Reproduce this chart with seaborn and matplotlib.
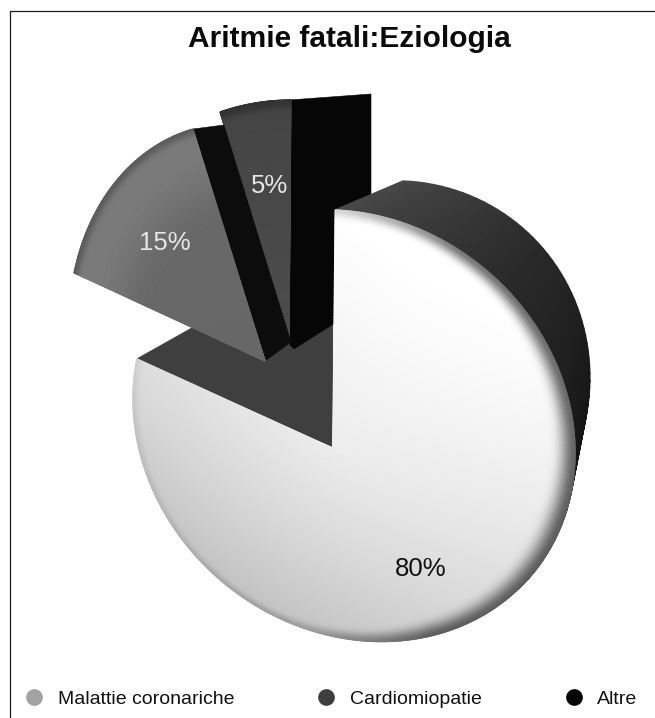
import numpy as np
import matplotlib
matplotlib.use("Agg")
import matplotlib.pyplot as plt
from matplotlib.collections import LineCollection
from matplotlib.lines import Line2D
import seaborn as sns

TITLE = "Aritmie fatali:Eziologia"
categories = ["Malattie coronariche", "Cardiomiopatie", "Altre"]
values = [80, 15, 5]
legend_colors = ["#a2a2a2", "#3e3e3e", "#040404"]

sns.set_theme(style="white")
plt.rcParams["font.family"] = ["Liberation Sans", "DejaVu Sans"]

# Cumulative fractions give the slice boundaries, clockwise from 12 o'clock.
edges = np.cumsum([0] + values) / sum(values)


def rim(frac):
    a = 2 * np.pi * np.asarray(frac)
    return np.column_stack([np.sin(a), np.cos(a)])


def homography(src, dst):
    rows, rhs = [], []
    for (x, y), (u, v) in zip(src, dst):
        rows.append([x, y, 1, 0, 0, 0, -u * x, -u * y])
        rows.append([0, 0, 0, x, y, 1, -v * x, -v * y])
        rhs += [u, v]
    return np.append(np.linalg.solve(np.array(rows, float), np.array(rhs, float)), 1).reshape(3, 3)


def project(H, pts):
    pts = np.asarray(pts, float)
    q = H @ np.column_stack([pts, np.ones(len(pts))]).T
    return (q[:2] / q[2]).T


def face_map(start, end, apex, p_start, p_mid, p_end):
    m = (start + end) / 2
    src = np.vstack([[[0, 0]], rim([start, m, end])])
    return homography(src, [apex, p_start, p_mid, p_end])


def shaded_slice(ax, H, start, end, shade):
    r = np.linspace(0, 1, 90)
    f = np.linspace(start, end, 300)
    R, F = np.meshgrid(r, f)
    uv = np.column_stack([(R * np.sin(2 * np.pi * F)).ravel(), (R * np.cos(2 * np.pi * F)).ravel()])
    xy = project(H, uv)
    X, Y = xy[:, 0].reshape(R.shape), xy[:, 1].reshape(R.shape)
    C = np.clip(shade(R, F, uv[:, 0].reshape(R.shape), uv[:, 1].reshape(R.shape)), 0, 1)
    ax.pcolormesh(X, Y, C, cmap="gray", vmin=0, vmax=1, shading="gouraud", zorder=ax.zcount)
    # Smooth the aliased boundary with a thin line in the local shade.
    outline = np.column_stack([X[:, -1], Y[:, -1]])
    segs = np.stack([outline[:-1], outline[1:]], axis=1)
    shades = plt.cm.gray(C[:-1, -1])
    ax.add_collection(LineCollection(segs, colors=shades, linewidths=0.9, zorder=ax.zcount))
    ax.zcount += 1


def flat(ax, pts, color, lw=0.4):
    ax.fill(*np.asarray(pts).T, color=color, lw=lw, zorder=ax.zcount)
    ax.zcount += 1


def smooth(x):
    x = np.clip(x, 0, 1)
    return x * x * (3 - 2 * x)


def main_shade(R, F, U, V):
    base = 0.885 + 0.125 * (0.45 * U + 0.9 * V) + 0.04 * (1 - R)
    deg = F * 360
    strength = np.interp(deg, [0, 30, 100, 150, 185, 230, 290], [0.15, 0.55, 0.6, 0.55, 0.2, 0.1, 0.05])
    width = np.interp(deg, [0, 40, 100, 150, 200, 290], [0.05, 0.07, 0.12, 0.12, 0.05, 0.05])
    return base * (1 - strength * smooth((R - (1 - width)) / width) ** 1.6)


def mid_shade(R, F, U, V):
    return 0.41 + 0.07 * smooth((R - 0.6) / 0.3) - 0.12 * smooth((R - 0.96) / 0.04)


def dark_shade(R, F, U, V):
    return 0.27 + 0.03 * (1 - R) - 0.07 * smooth((R - 0.95) / 0.05)


fig = plt.figure(figsize=(6.55, 7.18), dpi=100, facecolor="white")
ax = fig.add_axes([0, 0, 1, 1])
ax.zcount = 2

quarter_points = rim([0, 0.25, 0.5, 0.75])
main_front = homography(quarter_points, [(335, 210), (573, 482), (331, 636), (134, 420)])
main_back = homography(quarter_points, [(403, 181), (588, 405), (372, 590), (184, 390)])
second = face_map(edges[1], edges[2], (265, 361), (74, 273), (117, 180), (193, 129))
third = face_map(edges[2], edges[3], (289, 343), (220, 112), (255, 103), (291, 100))

# Exposed inner wall of the large slice, seen through the gap.
apex = project(main_front, [[0, 0]])[0]
left_front = project(main_front, rim([edges[1]]))[0]
left_back = project(main_back, rim([edges[1]]))[0]
flat(ax, [apex, left_front, left_back, (280, 300), (333, 300)], "#3f3f3f")

# Side wall of the smallest slice.
top_third = project(third, rim([edges[3]]))[0]
apex_third = project(third, [[0, 0]])[0]
flat(ax, [top_third + (-2, 0), top_third + (80, -6), top_third + (80, 200), apex_third + (5, 6), apex_third + (1, 2)], "#060606")

# Rim wall of the large slice, darkening clockwise.
fracs = np.linspace(0, 0.34, 60)
front_arc = project(main_front, rim(fracs))
back_arc = project(main_back, rim(fracs))
ramp = sns.blend_palette(["#474747", "#2a2a2a", "#181818", "#101010"], len(fracs) - 1)
for i, col in enumerate(ramp):
    flat(ax, [front_arc[i], front_arc[i + 1], back_arc[i + 1], back_arc[i]], col, lw=1.0)

shaded_slice(ax, third, edges[2], edges[3], dark_shade)

# Side wall of the middle slice.
top_second = project(second, rim([edges[2]]))[0]
apex_second = project(second, [[0, 0]])[0]
flat(ax, [apex_second, top_second, top_second + (31, -4), apex_second + (26, -19)], "#0c0c0c")
shaded_slice(ax, second, edges[1], edges[2], mid_shade)

shaded_slice(ax, main_front, edges[0], edges[1], main_shade)

# Text and frame sit above every shaded layer.
TOP = ax.zcount + 10

# Outer frame along the left and top.
ax.plot([9.5, 9.5, 655], [718, 11, 11], color="#1c1c1c", lw=0.9, zorder=TOP)

ax.text(349.5, 39, TITLE, ha="center", va="center", fontsize=21.5, fontweight="bold", color="#0a0a0a", zorder=TOP)

label_pos = [(421, 569), (165, 243), (270, 186)]
label_cols = ["#111111", "#e6e6e6", "#e6e6e6"]
for v, (x, y), c in zip(values, label_pos, label_cols):
    ax.text(x, y, f"{v}%", ha="center", va="center", fontsize=18.5, color=c, zorder=TOP)

handles = [
    Line2D([], [], linestyle="none", marker="o", markersize=11, markerfacecolor=c, markeredgecolor=c)
    for c in legend_colors
]
leg = ax.legend(
    handles, categories, ncol=3, frameon=False, fontsize=14,
    loc="center left", bbox_to_anchor=(0.03, 0.026),
    columnspacing=4.0, handletextpad=0.45, handlelength=1.5, borderpad=0, borderaxespad=0,
    labelcolor="#111111",
)
leg.set_zorder(TOP)

ax.set_xlim(0, 655)
ax.set_ylim(718, 0)
ax.set_axis_off()
fig.savefig("out.png", dpi=100, facecolor="white")
